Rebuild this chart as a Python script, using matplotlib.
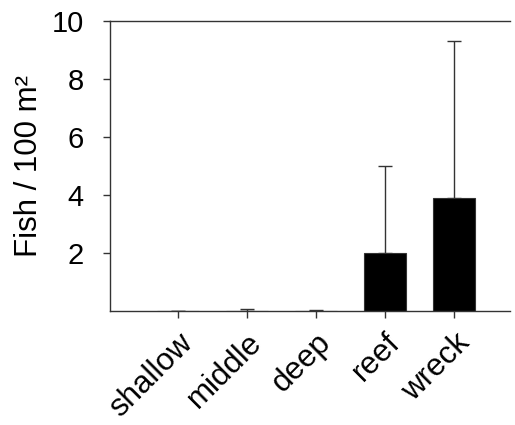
import numpy as np
import matplotlib.pyplot as plt

plt.rcParams['font.family'] = ['Liberation Sans', 'DejaVu Sans']

# data
sites = ['shallow', 'middle', 'deep', 'reef', 'wreck']
fish_mean = [0.0, 0.0, 0.0, 2.0, 3.9]
fish_err = [0.0, 0.06, 0.05, 3.0, 5.4]
y_ticks = [2, 4, 6, 8, 10]

fig = plt.figure(figsize=(5.15, 4.25), dpi=100)
ax = fig.add_axes([0.2136, 0.268, 0.777, 0.6824])

x = np.arange(len(sites))
ax.bar(x, fish_mean, width=0.61, color='black', edgecolor='#333333', linewidth=0.8,
       zorder=2)
ax.errorbar(x, fish_mean, yerr=[np.zeros(len(sites)), fish_err], fmt='none',
            ecolor='#333333', elinewidth=1.0, capsize=5, capthick=1.0, zorder=1)

ax.set_xlim(-0.985, 4.81)
ax.set_ylim(0, 10)
ax.tick_params(axis='both', labelsize=21, direction='out', length=5, width=1,
               color='#333333')
ax.tick_params(axis='y', pad=14)
ax.tick_params(axis='x', pad=7)
ax.set_yticks(y_ticks)
ax.set_xticks(x)
ax.set_xticklabels(sites, rotation=45, ha='right', va='top', rotation_mode='anchor',
                   fontsize=22.5)
ax.set_ylabel('Fish / 100 m\u00b2', fontsize=22.5, labelpad=5)

ax.spines['right'].set_visible(False)
for s in ['left', 'bottom', 'top']:
    ax.spines[s].set_linewidth(1.0)
    ax.spines[s].set_color('#333333')

fig.savefig('out.png', dpi=100)
